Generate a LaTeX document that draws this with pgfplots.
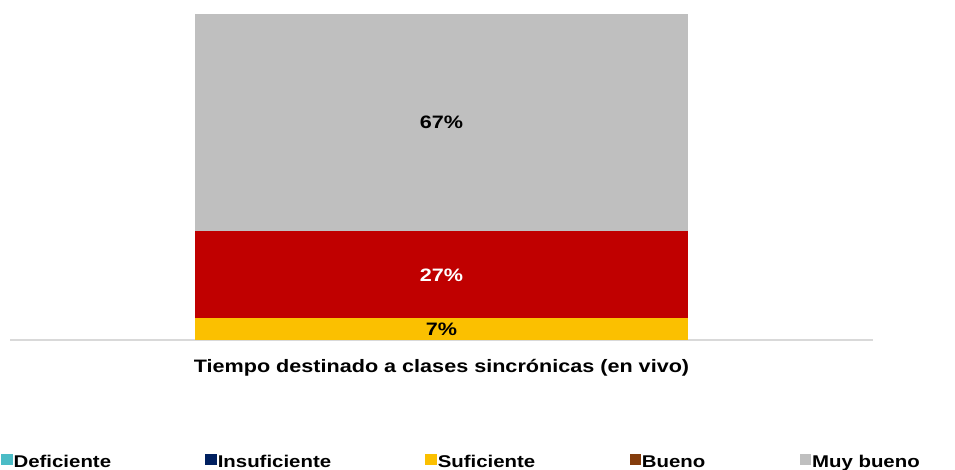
\documentclass[border=0pt]{standalone}
\usepackage{pgfplots}
\pgfplotsset{compat=1.18}
\usepackage{fontspec}
\setmainfont{Liberation Sans}[FakeStretch=1.2]
\definecolor{cDef}{HTML}{4BBCC6}
\definecolor{cIns}{HTML}{002060}
\definecolor{cSuf}{HTML}{FBC000}
\definecolor{cBue}{HTML}{843C0C}
\definecolor{cMuy}{HTML}{BFBFBF}
\definecolor{cRed}{HTML}{C00000}
\definecolor{cLine}{HTML}{D9D9D9}
\begin{document}
\begin{tikzpicture}
\path[use as bounding box] (0pt,0pt) rectangle (716.25pt,-352.5pt);
\begin{axis}[
  at={(7.5pt,-255pt)}, anchor=south west,
  scale only axis, width=647.25pt, height=244.5pt,
  xmin=0, xmax=1, ymin=0, ymax=100,
  ybar stacked, bar width=369.75pt,
  hide y axis,
  axis x line*=bottom,
  x axis line style={draw=cLine, line width=1.2pt, -},
  xtick=\empty,
  clip=false,
  point meta=explicit symbolic,
  nodes near coords,
  every node near coord/.append style={anchor=center, font=\fontsize{13.5}{16}\selectfont\bfseries},
  legend columns=5,
  legend image code/.code={\fill[#1, draw=none] (0pt,-0.5pt) rectangle (8.5pt,8pt);},
  legend style={at={(rel axis cs:-0.0104,-0.376)}, anchor=west, draw=none, fill=none,
    inner sep=0pt, font=\fontsize{12.75}{15}\selectfont\bfseries,
    nodes={inner sep=0.75pt, text height=0.72em, text depth=0.22em},
    /tikz/every odd column/.style={column sep=0pt},
    /tikz/every even column/.style={column sep=70pt}},
  legend cell align=left,
]
\addlegendimage{fill=cDef}\addlegendentry{Deficiente}
\addlegendimage{fill=cIns}\addlegendentry{Insuficiente}
\addlegendimage{fill=cSuf}\addlegendentry{Suficiente}
\addlegendimage{fill=cBue}\addlegendentry{Bueno}
\addlegendimage{fill=cMuy}\addlegendentry{Muy bueno}
\addplot[fill=cSuf, draw=none, forget plot,
  every node near coord/.append style={text=black}]
  coordinates {(0.5,6.6) [7\%]};
\addplot[fill=cRed, draw=none, forget plot,
  every node near coord/.append style={text=white}]
  coordinates {(0.5,26.7) [27\%]};
\addplot[fill=cMuy, draw=none, forget plot,
  every node near coord/.append style={text=black}]
  coordinates {(0.5,66.7) [67\%]};
\end{axis}
\node[font=\fontsize{13.5}{16}\selectfont\bfseries] at (331.1pt,-275.5pt) {Tiempo destinado a clases sincrónicas (en vivo)};
\end{tikzpicture}
\end{document}
